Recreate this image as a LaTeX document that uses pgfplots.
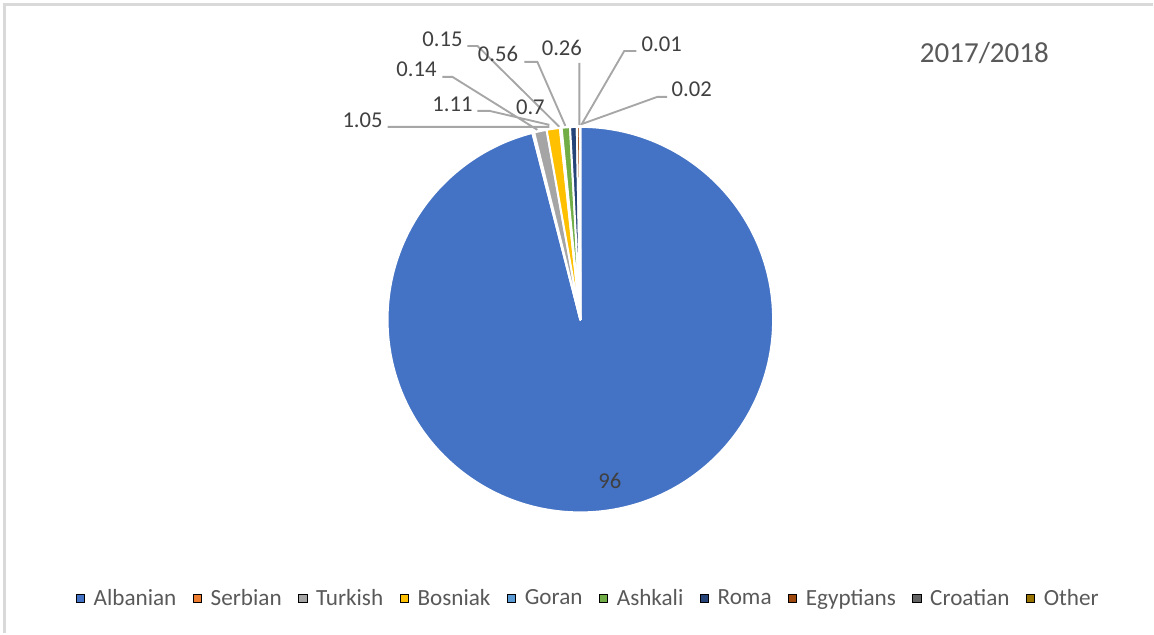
\documentclass[border=0pt]{standalone}
\usepackage{pgfplots}
\usepackage{pgfplotstable}
\pgfplotsset{compat=1.18}
\usepackage{fontspec}
\setmainfont{Carlito}

\definecolor{cAlb}{HTML}{4472C4}
\definecolor{cSer}{HTML}{ED7D31}
\definecolor{cTur}{HTML}{A5A5A5}
\definecolor{cBos}{HTML}{FFC000}
\definecolor{cGor}{HTML}{5B9BD5}
\definecolor{cAsh}{HTML}{70AD47}
\definecolor{cRom}{HTML}{264478}
\definecolor{cEgy}{HTML}{9E480E}
\definecolor{cCro}{HTML}{636363}
\definecolor{cOth}{HTML}{997300}
\definecolor{lbl}{HTML}{404040}
\definecolor{txt}{HTML}{595959}
\definecolor{lead}{HTML}{A6A6A6}
\definecolor{frame}{HTML}{D9D9D9}

% shares in percent, in the order of the legend
\pgfplotstableread{
name value idx
Albanian 96 0
Serbian 0.15 1
Turkish 1.05 2
Bosniak 1.11 3
Goran 0.14 4
Ashkali 0.7 5
Roma 0.56 6
Egyptians 0.26 7
Croatian 0.01 8
Other 0.02 9
}\piedata
\pgfplotstablecreatecol[create col/expr accum={\pgfmathaccuma+\thisrow{value}}{0}]{cum}\piedata

\newcommand\slicecolorof[1]{%
  \ifcase#1 \def\slicecolor{cAlb}\or\def\slicecolor{cSer}\or\def\slicecolor{cTur}%
  \or\def\slicecolor{cBos}\or\def\slicecolor{cGor}\or\def\slicecolor{cAsh}%
  \or\def\slicecolor{cRom}\or\def\slicecolor{cEgy}\or\def\slicecolor{cCro}%
  \or\def\slicecolor{cOth}\fi}

% data labels (positions in picture pixels, y from the bottom)
\pgfplotstableread{
x y lab
363 506 1.05
453 522 1.11
417 557 0.14
443 587 0.15
531 519 0.7
498.5 572 0.56
562.5 578 0.26
662.5 582 0.01
692.5 537 0.02
610.5 145 96
}\labels

% leader lines
\pgfplotstableread{
x y
388 507
550 507
nan nan
478 523
490 523
550 509
nan nan
443 557
453 557
538 504
nan nan
468 588
478 588
560 507
nan nan
525 572
538 572
566 508
nan nan
580 571
580 509
nan nan
637 583
625 583
582 509
nan nan
668 537
658 537
583 510
}\leaders

\pgfdeclareplotmark{nothing}{}

\begin{document}
\begin{tikzpicture}
\begin{axis}[
  x=0.75pt, y=0.75pt,
  xmin=0, xmax=1154, ymin=0, ymax=634,
  hide axis, clip=false,
  unbounded coords=jump,
  legend columns=10,
  legend style={draw=none, fill=none, inner sep=0pt,
    at={(588/1154,35/634)}, anchor=center,
    nodes={inner sep=0pt, text=txt, font=\fontsize{17.4}{20}\selectfont},
    /tikz/every odd column/.append style={column sep=6.75pt},
    /tikz/every even column/.append style={column sep=12.4pt}},
  legend image code/.code={\fill[#1] (0pt,-3.1pt) rectangle (6.2pt,3.1pt);},
]
\path (axis cs:0,0) rectangle (axis cs:1154,634);
\draw[frame, line width=2pt] (axis cs:4.5,0) -- (axis cs:4.5,629.5) -- (axis cs:1154,629.5);

% slices
\addplot[forget plot, scatter, only marks, mark=nothing,
  visualization depends on={\thisrow{value} \as \sliceval},
  visualization depends on={\thisrow{cum} \as \cumval},
  visualization depends on={\thisrow{idx} \as \sliceidx},
  scatter/@pre marker code/.code={%
    \pgfmathsetmacro\sa{90-3.6*(\cumval-\sliceval)}%
    \pgfmathsetmacro\ea{90-3.6*\cumval}%
    \pgfmathtruncatemacro\k{\sliceidx}%
    \slicecolorof{\k}%
    \filldraw[fill=\slicecolor, draw=white, line width=1.5pt, line join=round]
      (0,0) -- (\sa:144.75pt) arc[start angle=\sa, end angle=\ea, radius=144.75pt] -- cycle;
  },
  scatter/@post marker code/.code={},
] table[x expr=581, y expr=314] {\piedata};

\addplot[forget plot, lead, line width=1.4pt] table {\leaders};

\addplot[forget plot, only marks, mark=nothing,
  nodes near coords, point meta=explicit symbolic,
  every node near coord/.append style={anchor=base, inner sep=0pt, text=lbl,
    font=\fontsize{17}{20}\selectfont},
] table[meta=lab] {\labels};

\node[anchor=base, text=txt, font=\fontsize{21.8}{26}\selectfont] at (axis cs:985.5,571) {2017/2018};

\addlegendimage{fill=cAlb}\addlegendentry{Albanian}
\addlegendimage{fill=cSer}\addlegendentry{Serbian}
\addlegendimage{fill=cTur}\addlegendentry{Turkish}
\addlegendimage{fill=cBos}\addlegendentry{Bosniak}
\addlegendimage{fill=cGor}\addlegendentry{Goran}
\addlegendimage{fill=cAsh}\addlegendentry{Ashkali}
\addlegendimage{fill=cRom}\addlegendentry{Roma}
\addlegendimage{fill=cEgy}\addlegendentry{Egyptians}
\addlegendimage{fill=cCro}\addlegendentry{Croatian}
\addlegendimage{fill=cOth}\addlegendentry{Other}
\end{axis}
\end{tikzpicture}
\end{document}
